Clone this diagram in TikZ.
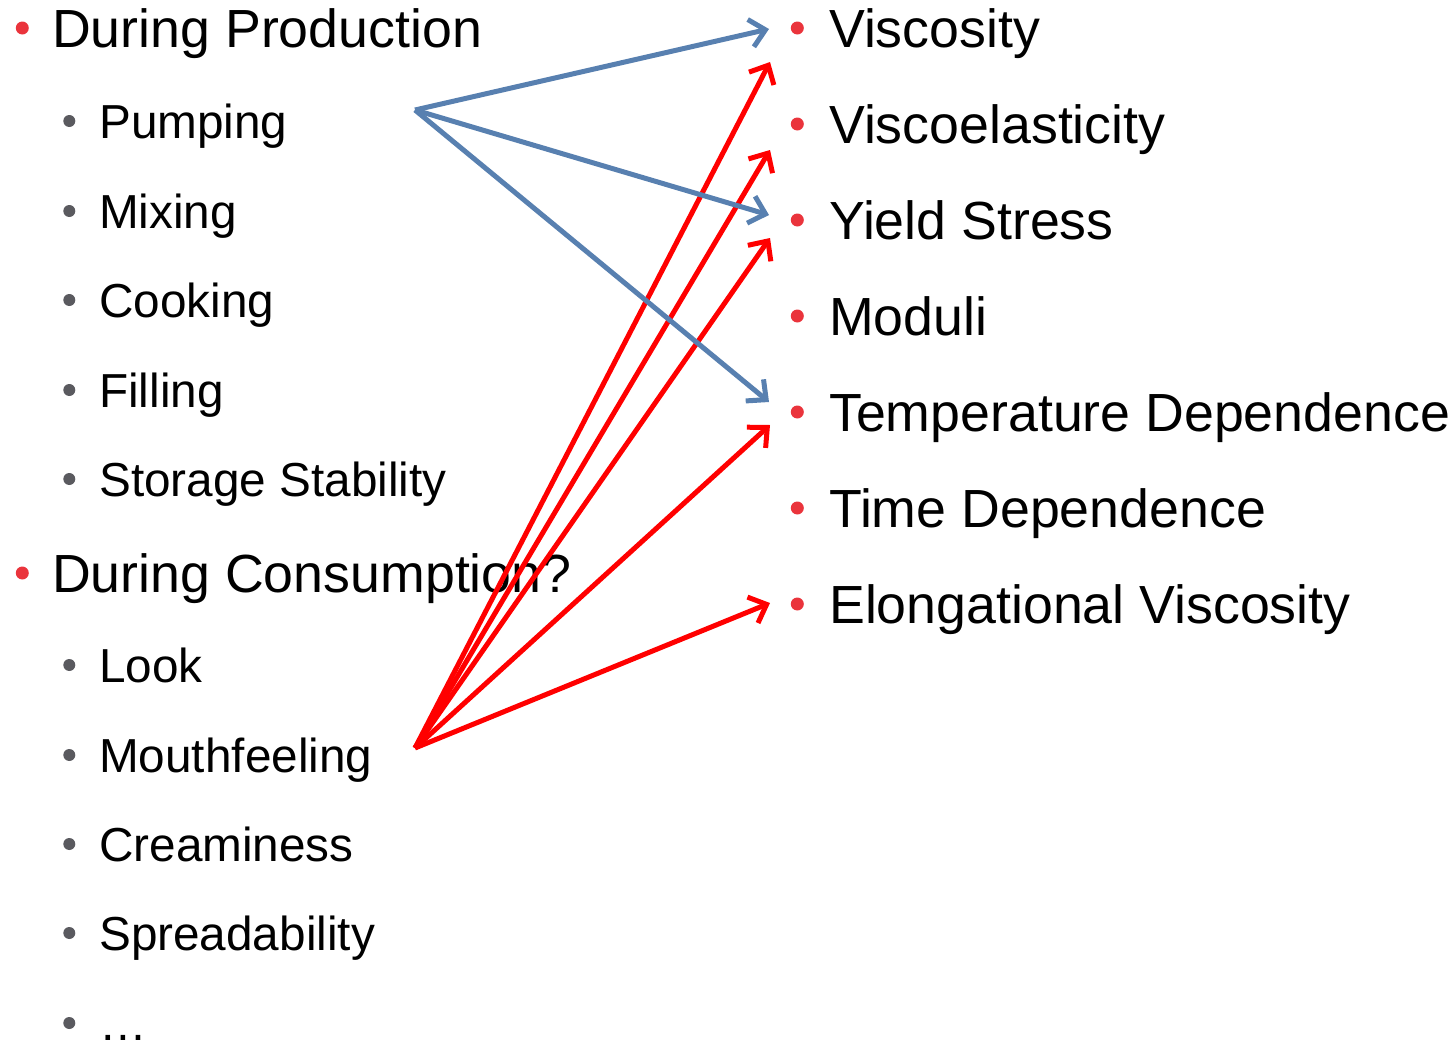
\documentclass[tikz,border=0pt]{standalone}
\usepackage{fontspec}
\setmainfont{Liberation Sans}
\usetikzlibrary{arrows.meta}
\definecolor{dotred}{RGB}{234,52,60}
\definecolor{dotgrey}{RGB}{90,90,95}
\definecolor{linkblue}{RGB}{88,128,176}
\definecolor{linkred}{RGB}{255,0,0}

\begin{document}
\begin{tikzpicture}[x=1pt,y=-1pt]
  \tikzset{dot/.style={circle, fill=#1, inner sep=0pt, text height=0pt, text depth=0pt}}
  \tikzset{head/.style={font=\fontsize{53.7}{64}\selectfont, anchor=base west, inner sep=0pt,
      text height=38pt, text depth=0pt,
      label={[dot=dotred, minimum size=13pt, label distance=#1]left:}},
    head/.default=25pt}
  \tikzset{sub/.style={font=\fontsize{47.7}{56}\selectfont, anchor=base west, inner sep=0pt,
      text height=34pt, text depth=0pt,
      label={[dot=dotgrey, minimum size=12pt, label distance=23.5pt]left:}}}
  \tikzset{link/.style={line width=5pt, -{Straight Barb[length=15pt,width=28pt]}}}
  \useasboundingbox (0,0) rectangle (1456,1044);
  %% where it matters
  \node[head=23pt] (prod) at (52,47)  {During Production};
  \node[sub]  (pump)   at (99,138)  {Pumping};
  \node[sub]  (mix)    at (99,228)  {Mixing};
  \node[sub]  (cook)   at (99,317)  {Cooking};
  \node[sub]  (fill)   at (99,407)  {Filling};
  \node[sub]  (store)  at (99,496)  {Storage Stability};
  \node[head=23pt] (cons) at (52,592) {During Consumption?};
  \node[sub]  (look)   at (99,682)  {Look};
  \node[sub]  (mouth)  at (99,772)  {Mouthfeeling};
  \node[sub]  (cream)  at (99,861)  {Creaminess};
  \node[sub]  (spread) at (99,950)  {Spreadability};
  \node[sub]  (more)   at (99,1040) {…};
  %% what is measured
  \node[head] (visc)  at (829,47)  {Viscosity};
  \node[head] (elast) at (829,143) {Viscoelasticity};
  \node[head] (yield) at (829,239) {Yield Stress};
  \node[head] (mod)   at (829,335) {Moduli};
  \node[head] (temp)  at (829,431) {Temperature Dependence};
  \node[head] (time)  at (829,527) {Time Dependence};
  \node[head] (elong) at (829,623) {Elongational Viscosity};
  %% arrow ends
  \coordinate (pumpOut)  at (415,110);
  \coordinate (mouthOut) at (415,748);
  \coordinate (viscB)  at (769,29);
  \coordinate (yieldB) at (769,215);
  \coordinate (tempB)  at (769,402);
  \coordinate (viscR)  at (770,62);
  \coordinate (elastR) at (770,150);
  \coordinate (yieldR) at (770,238);
  \coordinate (tempR)  at (770,425);
  \coordinate (elongR) at (770,603);
  \draw[link, linkred] (mouthOut) -- (viscR);
  \draw[link, linkred] (mouthOut) -- (elastR);
  \draw[link, linkred] (mouthOut) -- (yieldR);
  \draw[link, linkred] (mouthOut) -- (tempR);
  \draw[link, linkred] (mouthOut) -- (elongR);
  \draw[link, linkblue] (pumpOut) -- (viscB);
  \draw[link, linkblue] (pumpOut) -- (yieldB);
  \draw[link, linkblue] (pumpOut) -- (tempB);
\end{tikzpicture}
\end{document}
